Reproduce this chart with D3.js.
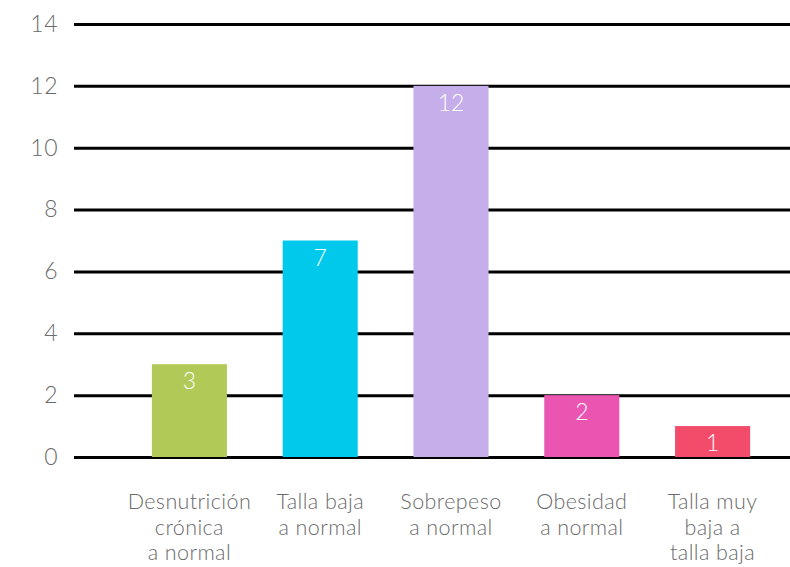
<!DOCTYPE html>
<html>
<head>
<meta charset="utf-8">
<script src="https://cdn.jsdelivr.net/npm/d3@7"></script>
<style>
  body { margin: 0; background: #fff; }
  text { font-family: "Lato", "Open Sans", sans-serif; font-weight: 300; }
</style>
</head>
<body>
<script>
// categories (each split into its display lines)
var categories = [
   ["Desnutrición", "crónica", "a normal"],
   ["Talla baja", "a normal"],
   ["Sobrepeso", "a normal"],
   ["Obesidad", "a normal"],
   ["Talla muy", "baja a", "talla baja"]
];
var values = [3, 7, 12, 2, 1];
var colors = ["#b1c957", "#00c9eb", "#c5aee9", "#eb55b2", "#f34b6a"];
var yTicks = [0, 2, 4, 6, 8, 10, 12, 14];

var width = 790, height = 567;
var gridLeft = 74, gridRight = 790;

var svg = d3.select("body").append("svg")
   .attr("width", width)
   .attr("height", height);

var x = d3.scaleBand()
   .domain(d3.range(values.length))
   .range([124, 778])
   .paddingInner(0.426)
   .paddingOuter(0.213);

var y = d3.scaleLinear().domain([0, 14]).range([457, 24]);

// gridlines + y labels
var yAxis = d3.axisLeft(y)
   .tickValues(yTicks)
   .tickSize(-(gridRight - gridLeft))
   .tickPadding(16);

var gy = svg.append("g")
   .attr("transform", "translate(" + gridLeft + ",0)")
   .call(yAxis);
gy.select(".domain").remove();
gy.selectAll(".tick line")
   .attr("stroke", "#000")
   .attr("stroke-width", 3);
gy.selectAll(".tick text")
   .attr("fill", "#6b6b6b")
   .style("font-size", "23px")
   .style("letter-spacing", "0.5px");

// bars
svg.selectAll(".bar")
   .data(values)
   .enter().append("rect")
   .attr("class", "bar")
   .attr("x", function(d, i) { return x(i); })
   .attr("y", function(d) { return y(d); })
   .attr("width", x.bandwidth())
   .attr("height", function(d) { return y(0) - y(d); })
   .attr("fill", function(d, i) { return colors[i]; });

// value labels
svg.selectAll(".val")
   .data(values)
   .enter().append("text")
   .attr("class", "val")
   .attr("x", function(d, i) { return x(i) + x.bandwidth() / 2; })
   .attr("y", function(d) { return y(d) + 25; })
   .attr("text-anchor", "middle")
   .attr("fill", "#fff")
   .style("font-size", "23px")
   .text(function(d) { return d; });

// category labels
var cat = svg.selectAll(".cat")
   .data(categories)
   .enter().append("text")
   .attr("class", "cat")
   .attr("text-anchor", "middle")
   .attr("fill", "#6b6b6b")
   .style("font-size", "21.5px")
   .style("letter-spacing", "0.4px");

cat.selectAll("tspan")
   .data(function(d, i) { return d.map(function(s) { return { s: s, i: i }; }); })
   .enter().append("tspan")
   .attr("x", function(d) { return x(d.i) + x.bandwidth() / 2; })
   .attr("y", function(d, j) { return 509 + j * 25.5; })
   .text(function(d) { return d.s; });
</script>
</body>
</html>
